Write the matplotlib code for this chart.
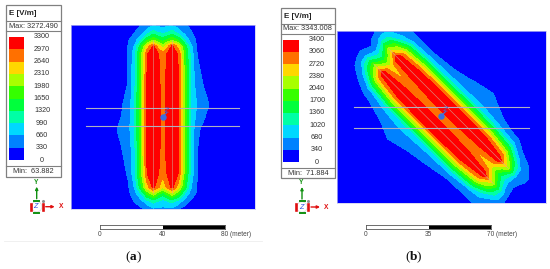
import numpy as np
import matplotlib
matplotlib.use('Agg')
import matplotlib.pyplot as plt
from matplotlib.patches import Rectangle, Circle

plt.rcParams['font.family'] = ['Liberation Sans', 'DejaVu Sans']
plt.rcParams['mathtext.fontset'] = 'custom'
plt.rcParams['mathtext.bf'] = 'Liberation Serif:bold'

# legend values of the two panels
levels_a = [0, 330, 660, 990, 1320, 1650, 1980, 2310, 2640, 2970, 3300]
levels_b = [0, 340, 680, 1020, 1360, 1700, 2040, 2380, 2720, 3060, 3400]
band_colors = ['#0000ff', '#0082ff', '#00d8ff', '#00ffa5', '#00ff3c',
               '#35ff00', '#a8ff00', '#ffd700', '#ff7000', '#ff0000']
max_a, min_a = '3272.490', '63.882'
max_b, min_b = '3343.008', '71.884'

# scale bars, metres
scale_a = [0, 40, 80]
scale_b = [0, 35, 70]

# field: across / along the conductors, metres
across = [-60, -40, -30, -26, -22, -18, -14, -10, -6, -3, 0, 3, 6, 10, 14, 18, 22, 26, 30, 40, 60]

along_a = [59, 54, 49, 45, 40, 20, 8, 0, -8, -20, -36, -45, -49, -54, -59]
field_a = [
    [0, 0, 60, 110, 180, 250, 310, 420, 560, 540, 470, 540, 560, 450, 350, 260, 170, 100, 60, 0, 0],
    [0, 0, 50, 100, 170, 310, 480, 800, 1100, 950, 850, 950, 1100, 820, 520, 350, 200, 100, 50, 0, 0],
    [0, 20, 70, 150, 300, 480, 900, 1500, 1900, 1650, 1500, 1650, 1900, 1550, 950, 500, 260, 120, 50, 0, 0],
    [0, 20, 80, 150, 340, 680, 1500, 2400, 3000, 2500, 2100, 2500, 3000, 2450, 1550, 720, 260, 130, 60, 0, 0],
    [0, 20, 80, 150, 340, 830, 1800, 2900, 3300, 3000, 2750, 3000, 3300, 2900, 1800, 830, 320, 150, 60, 0, 0],
    [0, 30, 90, 150, 360, 880, 1900, 3000, 3300, 3020, 2890, 3020, 3300, 3000, 1900, 900, 480, 320, 130, 20, 0],
    [0, 30, 120, 300, 480, 900, 1900, 3000, 3300, 3020, 2890, 3020, 3300, 3000, 1900, 950, 620, 450, 310, 40, 0],
    [0, 40, 200, 340, 540, 900, 1900, 3000, 3300, 3020, 2890, 3020, 3300, 3000, 1900, 900, 550, 380, 180, 30, 0],
    [0, 40, 300, 430, 560, 900, 1900, 3000, 3300, 3020, 2890, 3020, 3300, 3000, 1900, 880, 400, 230, 100, 20, 0],
    [0, 30, 150, 330, 450, 880, 1900, 3000, 3300, 3020, 2890, 3020, 3300, 3000, 1900, 880, 340, 150, 70, 0, 0],
    [0, 20, 100, 220, 370, 850, 1850, 2950, 3300, 3000, 2750, 3000, 3300, 2950, 1850, 850, 340, 150, 60, 0, 0],
    [0, 20, 80, 150, 280, 680, 1500, 2450, 3050, 2700, 2350, 2700, 3050, 2450, 1500, 680, 290, 130, 50, 0, 0],
    [0, 20, 60, 120, 250, 500, 980, 1700, 2200, 1800, 1450, 1800, 2200, 1700, 980, 520, 270, 120, 50, 0, 0],
    [0, 0, 50, 100, 170, 340, 520, 850, 1100, 950, 850, 950, 1100, 850, 480, 280, 150, 80, 30, 0, 0],
    [0, 0, 30, 70, 120, 190, 260, 400, 580, 600, 560, 590, 560, 330, 220, 140, 80, 40, 20, 0, 0],
]

along_b = [70, 59, 54, 47, 40, 26, 12, 0, -12, -26, -40, -47, -54, -59, -70]
field_b = [
    [0, 0, 0, 0, 0, 0, 0, 0, 0, 0, 0, 100, 150, 200, 200, 150, 100, 50, 0, 0, 0],
    [0, 0, 0, 0, 20, 30, 60, 150, 230, 220, 240, 290, 320, 400, 350, 200, 120, 60, 20, 0, 0],
    [0, 0, 20, 40, 80, 150, 330, 500, 620, 440, 360, 480, 780, 800, 560, 330, 150, 80, 30, 0, 0],
    [0, 0, 40, 100, 200, 340, 700, 1500, 1900, 1450, 1250, 1600, 2150, 1700, 900, 500, 340, 150, 60, 0, 0],
    [0, 20, 60, 130, 280, 600, 1500, 2500, 3200, 2700, 2350, 2750, 3300, 2600, 1600, 700, 320, 130, 50, 0, 0],
    [0, 30, 130, 270, 450, 830, 1900, 2900, 3300, 2950, 2700, 2950, 3300, 2900, 1900, 800, 340, 160, 60, 0, 0],
    [0, 30, 330, 460, 600, 900, 1900, 2950, 3300, 3000, 2800, 3000, 3300, 2950, 1900, 850, 420, 230, 100, 10, 0],
    [0, 30, 230, 360, 520, 880, 1900, 2950, 3300, 3000, 2800, 3000, 3300, 2950, 1900, 870, 470, 370, 220, 20, 0],
    [0, 20, 120, 300, 430, 850, 1900, 2950, 3300, 3000, 2800, 3000, 3300, 2950, 1900, 880, 530, 420, 320, 30, 0],
    [0, 20, 70, 170, 350, 830, 1900, 2900, 3300, 2950, 2700, 2950, 3300, 2900, 1900, 830, 380, 260, 120, 10, 0],
    [0, 20, 60, 150, 320, 620, 1500, 2500, 3200, 2700, 2350, 2700, 3200, 2500, 1500, 680, 280, 130, 50, 0, 0],
    [0, 10, 60, 150, 320, 560, 920, 1700, 2200, 1700, 1350, 1600, 2150, 1500, 700, 310, 170, 80, 30, 0, 0],
    [0, 10, 60, 130, 250, 350, 500, 800, 850, 620, 520, 520, 550, 470, 380, 170, 90, 40, 0, 0, 0],
    [0, 0, 40, 100, 180, 280, 380, 340, 260, 220, 190, 260, 340, 350, 180, 80, 30, 0, 0, 0, 0],
    [0, 0, 0, 30, 60, 100, 120, 100, 60, 20, 0, 0, 0, 0, 0, 0, 0, 0, 0, 0, 0],
]

# conductors and the two crossing lines, metres
stripe_u = [-6, 6]
stripe_v_a = [-49, 49]
stripe_v_b = [-47.5, 47.5]
line_y_a = [5.8, -6.0]
line_y_b = [5.4, -6.4]
line_x_a = [-49, 49]
line_x_b = [-48.6, 49.2]

W, H = 550, 269
fig = plt.figure(figsize=(W / 100, H / 100), dpi=100)

# overlay in picture pixels for the boxes and the labels
page = fig.add_axes([0, 0, 1, 1])
page.set_xlim(0, W)
page.set_ylim(H, 0)
page.set_autoscale_on(False)
page.axis('off')


def add_axes_px(x0, y0, x1, y1):
    return fig.add_axes([x0 / W, 1 - y1 / H, (x1 - x0) / W, (y1 - y0) / H])


def draw_legend(x0, x1, y0, y1, y2, y3, y4, sw0, sw1, sw_top, sw_bot, levels, vmax, vmin):
    page.add_patch(Rectangle((x0, y0), x1 - x0, y4 - y0, fc='white', ec='#808080', lw=0.9))
    for y in [y1, y2, y3]:
        page.plot([x0, x1], [y, y], color='#808080', lw=0.8)
    page.text(x0 + 3, (y0 + y1) / 2 + 0.5, 'E [V/m]', fontsize=5.8, fontweight='bold',
              color='#222222', va='center')
    page.text((x0 + x1) / 2, (y1 + y2) / 2 + 0.3, 'Max: ' + vmax, fontsize=5.35,
              color='#333333', ha='center', va='center')
    page.text((x0 + x1) / 2, (y3 + y4) / 2 + 0.3, 'Min:  ' + vmin, fontsize=5.35,
              color='#333333', ha='center', va='center')
    # colour swatches
    sw = add_axes_px(sw0, sw_top, sw1, sw_bot)
    sw.bar(0, np.diff(levels), bottom=levels[:-1], width=1, color=band_colors)
    sw.set_xlim(-0.5, 0.5)
    sw.set_ylim(levels[0], levels[-1])
    sw.axis('off')
    step = (sw_bot - sw_top) / (len(levels) - 1)
    for i, lev in enumerate(levels):
        page.text(sw1 + 18, sw_bot - i * step, str(lev), fontsize=5.2, color='#333333',
                  ha='center', va='center')


def draw_map(box, xlim, ylim, along, field, levels, angle, stripe_v, line_x, line_y, z_off):
    ax = add_axes_px(*box)
    ax.set_facecolor('#0000ff')
    U, V = np.meshgrid(across, along)
    # along the conductors is straight up in (a), up and left in (b)
    a = np.radians(angle)
    X = U * np.cos(a) - V * np.sin(a)
    Y = U * np.sin(a) + V * np.cos(a)
    scaled = np.array(field, dtype=float) * levels[-1] / 3300.0
    cs = ax.contourf(X, Y, scaled, levels=levels, colors=band_colors)
    # hide the seams between the bands
    cs.set_edgecolor('face')
    cs.set_linewidth(0.3)
    for u in stripe_u:
        xs = [u * np.cos(a) - v * np.sin(a) for v in stripe_v]
        ys = [u * np.sin(a) + v * np.cos(a) for v in stripe_v]
        ax.plot(xs, ys, color='#d0b0a0', lw=0.45, alpha=0.8)
    for y in line_y:
        ax.plot(line_x, [y, y], color='#b0b0c0', lw=0.8)
    ax.plot([0], [0], 'o', color='#3c6ee0', ms=3.6)
    ax.plot([0, 2.5], [0, 2.5], color='#3c6ee0', lw=0.8)
    ax.text(z_off, 3.4, 'Z', fontsize=5.5, color='#3c6ee0', ha='center', va='center', rotation=-10)
    ax.set_xlim(*xlim)
    ax.set_ylim(*ylim)
    ax.set_xticks([])
    ax.set_yticks([])
    for s in ax.spines.values():
        s.set_color('#c8c8f0')
        s.set_linewidth(0.5)


def draw_triad(cx, cy):
    page.add_patch(Circle((cx, cy), 5.2, fc='white', ec='#d8d8d8', lw=0.5))
    page.plot([cx - 6.2, cx - 6.2], [cy - 2.8, cy + 2.8], color='#e01010', lw=1.9)
    page.plot([cx + 6.2, cx + 6.2], [cy - 2.8, cy + 2.8], color='#e01010', lw=1.9)
    page.plot([cx - 2.5, cx + 2.5], [cy - 6, cy - 6], color='#109010', lw=1.4)
    page.plot([cx - 2.5, cx + 2.5], [cy + 6.4, cy + 6.4], color='#109010', lw=1.4)
    page.annotate('', xy=(cx, cy - 20), xytext=(cx, cy - 8),
                  arrowprops=dict(arrowstyle='-|>', color='#109010', lw=1, mutation_scale=4,
                                  shrinkA=0, shrinkB=0))
    page.annotate('', xy=(cx + 18, cy), xytext=(cx + 9, cy),
                  arrowprops=dict(arrowstyle='-|>', color='#e01010', lw=1, mutation_scale=4,
                                  shrinkA=0, shrinkB=0))
    page.text(cx - 1, cy - 24, 'Y', fontsize=4.8, color='#109010', ha='center', va='center', fontweight='bold')
    page.text(cx + 24, cy + 0.3, 'X', fontsize=4.8, color='#e01010', ha='center', va='center', fontweight='bold')
    page.text(cx - 1, cy + 0.3, 'Z', fontsize=5.2, color='#3050e0', ha='center', va='center', style='italic')
    page.plot([cx + 6], [cy - 6], 'o', color='#909090', ms=1.2)


def draw_scale(x0, x1, y0, y1, ticks, label_y):
    ax = add_axes_px(x0, y0, x1, y1)
    ax.barh(0, ticks[1] - ticks[0], left=ticks[0], height=1, color='white', edgecolor='none')
    ax.barh(0, ticks[2] - ticks[1], left=ticks[1], height=1, color='black', edgecolor='none')
    ax.set_xlim(ticks[0], ticks[2])
    ax.set_ylim(-0.5, 0.5)
    ax.set_xticks([])
    ax.set_yticks([])
    for s in ax.spines.values():
        s.set_color('#555555')
        s.set_linewidth(0.6)
    xs = np.interp(ticks, [ticks[0], ticks[2]], [x0, x1])
    page.text(xs[0], label_y, str(ticks[0]), fontsize=4.7, color='#444444', ha='center', va='center')
    page.text(xs[1], label_y, str(ticks[1]), fontsize=4.7, color='#444444', ha='center', va='center')
    page.text(xs[2] - 4, label_y, str(ticks[2]) + ' (meter)', fontsize=4.7, color='#444444', ha='left', va='center')


# panel (a)
draw_legend(6, 61, 5, 21, 31, 166, 177, 9, 24, 37, 160, levels_a, max_a, min_a)
draw_map((70.7, 25, 254.7, 209), (-58.8, 58.8), (-59, 58.6), along_a, field_a, levels_a, 0,
         stripe_v_a, line_x_a, line_y_a, 2.5)
draw_triad(36.7, 206.7)
draw_scale(100, 225, 225, 229, scale_a, 235)
page.plot([4, 262], [240.5, 240.5], color='#eeeeee', lw=0.6)
page.text(133.5, 257, r'($\mathbf{a}$)', fontsize=9.6, family='Liberation Serif', ha='center', va='center', color='#111111')

# panel (b)
draw_legend(280.7, 335, 8, 23.5, 33.5, 168, 178, 283.3, 299, 39.5, 162, levels_b, max_b, min_b)
draw_map((337.3, 31, 546, 203), (-58.1, 58.9), (-48.7, 47.8), along_b, field_b, levels_b, 45,
         stripe_v_b, line_x_b, line_y_b, 2.5)
draw_triad(302, 207)
draw_scale(366, 491, 225, 229, scale_b, 235)
page.text(413.5, 257, r'($\mathbf{b}$)', fontsize=9.6, family='Liberation Serif', ha='center', va='center', color='#111111')

fig.savefig('out.png', dpi=100)
